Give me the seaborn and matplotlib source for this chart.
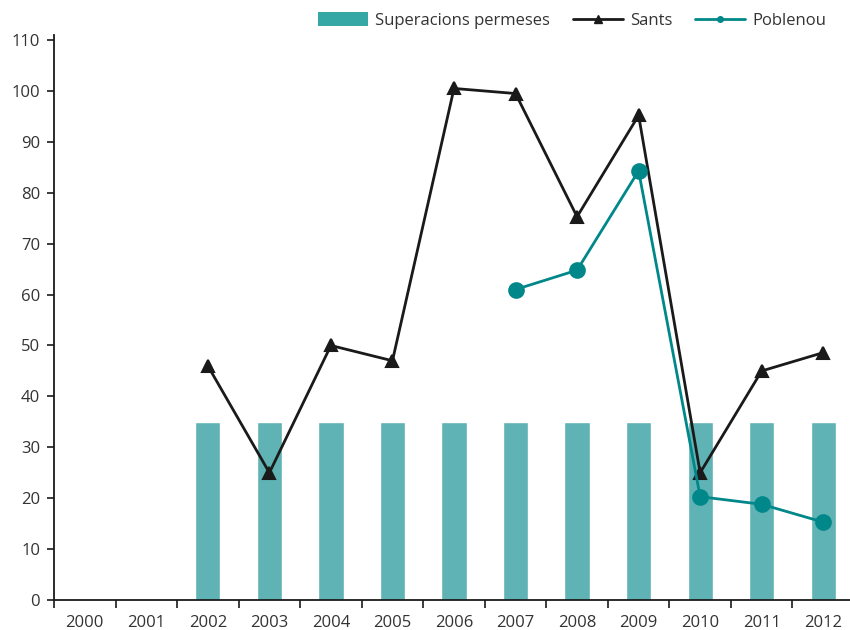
import numpy as np
import pandas as pd
import matplotlib
matplotlib.use("Agg")
import matplotlib.pyplot as plt
import seaborn as sns
from matplotlib.patches import Patch
from matplotlib.lines import Line2D

years = ["2000", "2001", "2002", "2003", "2004", "2005", "2006",
         "2007", "2008", "2009", "2010", "2011", "2012"]
superacions = [np.nan, np.nan, 35, 35, 35, 35, 35, 35, 35, 35, 35, 35, 35]
sants = [np.nan, np.nan, 46, 25, 50, 47, 100.5, 99.5, 75.3, 95.2, 25, 45, 48.6]
poblenou = [np.nan, np.nan, np.nan, np.nan, np.nan, np.nan, np.nan,
            61, 64.8, 84.3, 20.3, 18.8, 15.3]
yticks = list(range(0, 111, 10))

df = pd.DataFrame({"year": years, "superacions": superacions,
                   "sants": sants, "poblenou": poblenou})

sns.set_theme(style="white")
plt.rcParams["font.family"] = ["Open Sans", "DejaVu Sans"]
text_color = "#333333"
bar_color = "#60b3b4"
teal = "#00878a"
black = "#1a1a1a"

fig = plt.figure(figsize=(8.5, 6.3), dpi=100)
ax = fig.add_axes([54 / 850, 30 / 630, (854 - 54) / 850, (600 - 35) / 630])

sns.barplot(data=df.dropna(subset=["superacions"]), x="year", y="superacions",
            order=years, color=bar_color, saturation=1, width=0.41, ax=ax)
sns.pointplot(data=df.dropna(subset=["sants"]), x="year", y="sants", order=years,
              color=black, markers="^", errorbar=None, ax=ax,
              markersize=9, linewidth=2)
sns.pointplot(data=df.dropna(subset=["poblenou"]), x="year", y="poblenou", order=years,
              color=teal, markers="o", errorbar=None, ax=ax,
              markersize=10.5, linewidth=2)

ax.set_xlim(-0.5, len(years) - 0.5)
ax.set_ylim(0, 111)
ax.set_yticks(yticks)
ax.set_yticklabels([str(t) for t in yticks])
ax.set_xlabel("")
ax.set_ylabel("")

for s in ["top", "right"]:
    ax.spines[s].set_visible(False)
for s in ["left", "bottom"]:
    ax.spines[s].set_color(black)
    ax.spines[s].set_linewidth(1.3)

ax.set_xticks(np.arange(len(years)))
ax.set_xticklabels(years)
ax.set_xticks(np.arange(len(years) + 1) - 0.5, minor=True)
ax.tick_params(axis="x", which="major", length=0, pad=11, labelsize=12,
               labelcolor=text_color)
ax.tick_params(axis="x", which="minor", length=6, width=1.2, color=black,
               direction="out", bottom=True)
ax.tick_params(axis="y", length=5, width=1.2, color=black, direction="out",
               left=True, labelsize=12, labelcolor=text_color, pad=5)

handles = [
    Patch(facecolor="#35a8a5", edgecolor="none"),
    Line2D([0], [0], color=black, lw=2, marker="^", markersize=6),
    Line2D([0], [0], color=teal, lw=2, marker="o", markersize=4),
]
labels = ["Superacions permeses", "Sants", "Poblenou"]
fig.legend(handles, labels, loc="center", bbox_to_anchor=(0.673, 0.967), ncol=3,
           frameon=False, fontsize=12, handlelength=3.0, handleheight=0.9,
           columnspacing=1.4, handletextpad=0.4, labelcolor=text_color)

fig.savefig("out.png", dpi=100)
